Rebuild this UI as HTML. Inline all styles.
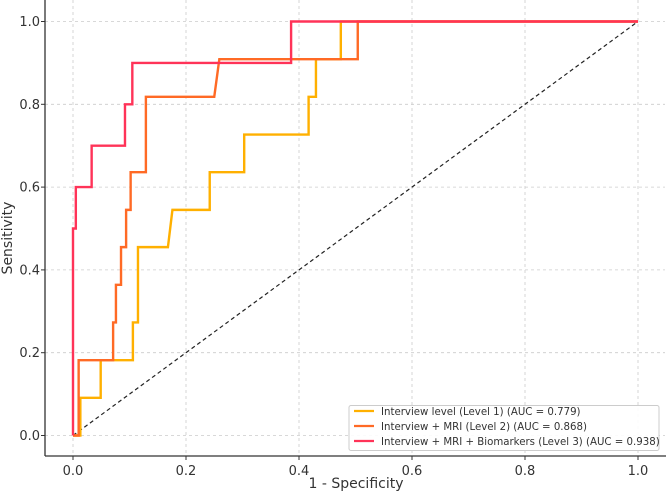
<!DOCTYPE html>
<html><head><meta charset="utf-8"><style>
html,body{margin:0;padding:0;background:#fff;}
svg text{font-family:"DejaVu Sans","Liberation Sans",sans-serif;fill:#333;}
</style></head><body>
<svg id="chart" width="666" height="493" viewBox="0 0 666 493" xmlns="http://www.w3.org/2000/svg">
<g id="grid"></g>
<line id="diag" stroke="#222" stroke-width="1.2" stroke-dasharray="4,3"/>
<g id="series"></g>
<g id="axes"></g>
<text x="356" y="488" text-anchor="middle" font-size="14">1 - Specificity</text>
<text transform="translate(12,238) rotate(-90)" text-anchor="middle" font-size="14">Sensitivity</text>
<g>
<rect x="349" y="405.5" width="310" height="45" fill="#fff" fill-opacity="0.9" stroke="#ccc" rx="2"/>
<line x1="354" x2="374" y1="411" y2="411" stroke="#FFB000" stroke-width="2.2"/>
<text x="381" y="415" font-size="10.2">Interview level (Level 1) (AUC = 0.779)</text>
<line x1="354" x2="374" y1="426" y2="426" stroke="#FF6A25" stroke-width="2.2"/>
<text x="381" y="430" font-size="10.2">Interview + MRI (Level 2) (AUC = 0.868)</text>
<line x1="354" x2="374" y1="441" y2="441" stroke="#FF3358" stroke-width="2.2"/>
<text x="381" y="445" font-size="10.2">Interview + MRI + Biomarkers (Level 3) (AUC = 0.938)</text>
</g>
</svg>
<script>
const ticks=[0,0.2,0.4,0.6,0.8,1.0];
const tickLabels=["0.0","0.2","0.4","0.6","0.8","1.0"];
const l1x=[0,0.013,0.013,0.049,0.049,0.106,0.106,0.115,0.115,0.168,0.176,0.242,0.242,0.303,0.303,0.417,0.417,0.43,0.43,0.474,0.474,1];
const l1y=[0,0,0.091,0.091,0.182,0.182,0.273,0.273,0.455,0.455,0.545,0.545,0.636,0.636,0.727,0.727,0.818,0.818,0.909,0.909,1,1];
const l2x=[0,0.01,0.01,0.071,0.071,0.076,0.076,0.085,0.085,0.094,0.094,0.102,0.102,0.129,0.129,0.25,0.259,0.504,0.504,1];
const l2y=[0,0,0.182,0.182,0.273,0.273,0.364,0.364,0.455,0.455,0.545,0.545,0.636,0.636,0.818,0.818,0.909,0.909,1,1];
const l3x=[0,0,0.005,0.005,0.033,0.033,0.092,0.092,0.105,0.105,0.386,0.386,1];
const l3y=[0,0.5,0.5,0.6,0.6,0.7,0.7,0.8,0.8,0.9,0.9,1,1];
const X0=73,X1=638,Y0=435.5,Y1=21.5;
const sx=v=>X0+v*(X1-X0), sy=v=>Y0-v*(Y0-Y1);
const NS="http://www.w3.org/2000/svg";
const mk=(t,a,p)=>{const e=document.createElementNS(NS,t);for(const k in a)e.setAttribute(k,a[k]);p.appendChild(e);return e;};
const grid=document.getElementById('grid'), axes=document.getElementById('axes'), series=document.getElementById('series');
ticks.forEach((t,i)=>{
 const gx=mk('line',{x1:sx(t),x2:sx(t),y1:0,y2:456,stroke:'#ccc','stroke-dasharray':'3,3','stroke-width':0.8},grid);
 
 
 const gy=mk('line',{x1:45,x2:665,y1:sy(t),y2:sy(t),stroke:'#ccc','stroke-dasharray':'3,3','stroke-width':0.8},grid);
 
 
 const tx=mk('text',{x:sx(t),y:475,'text-anchor':'middle','font-size':13},axes);
 tx.textContent=tickLabels[i];
 
 
 const ty=mk('text',{x:40,y:sy(t)+4.5,'text-anchor':'end','font-size':13},axes);
 ty.textContent=tickLabels[i];
 
 
 mk('line',{x1:sx(t),x2:sx(t),y1:456,y2:460,stroke:'#333'},axes);
 mk('line',{x1:41,x2:45,y1:sy(t),y2:sy(t),stroke:'#333'},axes);
});
const sp1=mk('line',{x1:45,x2:45,y1:0,y2:456,stroke:'#333','stroke-width':1.3},axes);


const sp2=mk('line',{x1:45,x2:666,y1:456,y2:456,stroke:'#333','stroke-width':1.3},axes);


const d=document.getElementById('diag');
d.setAttribute('x1',sx(0));d.setAttribute('y1',sy(0));d.setAttribute('x2',sx(1));d.setAttribute('y2',sy(1));
[[l1x,l1y,'#FFB000','roc-level1'],[l2x,l2y,'#FF6A25','roc-level2'],[l3x,l3y,'#FF3358','roc-level3']].forEach(s=>{
 const p=mk('polyline',{points:s[0].map((v,i)=>sx(v)+','+sy(s[1][i])).join(' '),fill:'none',stroke:s[2],'stroke-width':2.4,'stroke-linejoin':'miter'},series);
 
 
});
</script>
</body></html>
